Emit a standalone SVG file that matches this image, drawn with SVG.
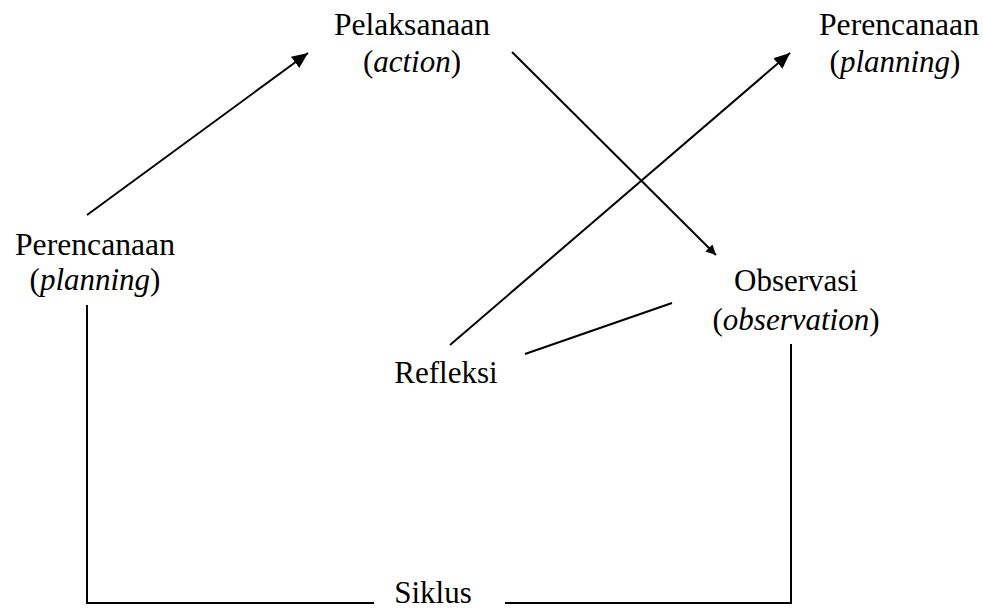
<svg xmlns="http://www.w3.org/2000/svg" width="983" height="611" viewBox="0 0 983 611">
<style>
text{font-family:'Liberation Serif','Times New Roman',serif;font-size:31px;fill:#000;text-anchor:middle}
.i{font-style:italic}
.c line,.c polyline{stroke:#000;stroke-width:2;fill:none}
</style>
<defs>
<marker id="ah" markerUnits="userSpaceOnUse" markerWidth="18" markerHeight="14" refX="16" refY="7" orient="auto"><path d="M0,0 L16,7 L0,14 Z" fill="#000"/></marker>
<marker id="as" markerUnits="userSpaceOnUse" markerWidth="11" markerHeight="10" refX="10" refY="5" orient="auto"><path d="M0,0 L10,5 L0,10 Z" fill="#000"/></marker>
</defs>
<rect width="983" height="611" fill="#fff"/>
<g class="c" id="connectors">
<line x1="87" y1="215" x2="308" y2="53" marker-end="url(#ah)"/>
<line x1="512" y1="52" x2="716" y2="255" marker-end="url(#as)"/>
<line x1="450" y1="345" x2="790" y2="53" marker-end="url(#ah)"/>
<line x1="525" y1="354" x2="672" y2="303"/>
<polyline points="87,305 87,603 374,603"/>
<polyline points="791,344 791,603 505,603"/>
</g>
<g id="pelaksanaan"><text x="412" y="35" textLength="156" lengthAdjust="spacingAndGlyphs">Pelaksanaan</text><text x="412" y="72">(<tspan class="i">action</tspan>)</text></g>
<g id="perencanaan2"><text x="899" y="35" textLength="160" lengthAdjust="spacingAndGlyphs">Perencanaan</text><text x="895" y="72">(<tspan class="i">planning</tspan>)</text></g>
<g id="perencanaan1"><text x="95" y="255" textLength="160" lengthAdjust="spacingAndGlyphs">Perencanaan</text><text x="95" y="290">(<tspan class="i">planning</tspan>)</text></g>
<g id="observasi"><text x="796" y="291">Observasi</text><text x="796" y="330">(<tspan class="i">observation</tspan>)</text></g>
<g id="refleksi"><text x="446" y="383">Refleksi</text></g>
<g id="siklus"><text x="433" y="603">Siklus</text></g>
</svg>
